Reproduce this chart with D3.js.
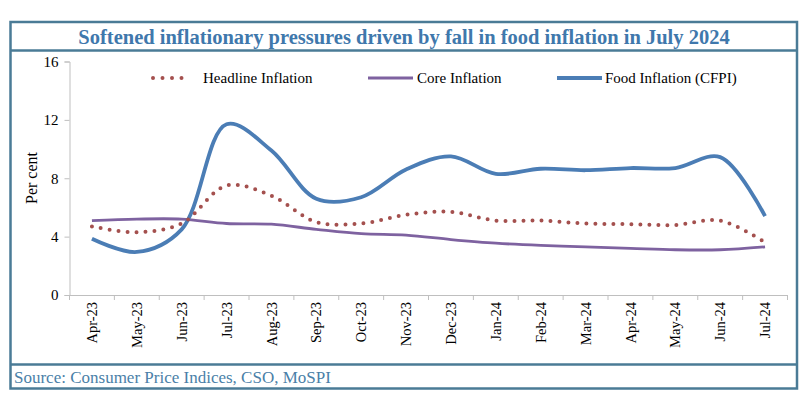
<!DOCTYPE html>
<html>
<head>
<meta charset="utf-8">
<script src="https://cdn.jsdelivr.net/npm/d3@7"></script>
<style>
  body { margin: 0; background: #fff; }
  text { font-family: "Liberation Serif", "Times New Roman", serif; }
</style>
</head>
<body>
<script>
// months on the x axis
var months = ["Apr-23", "May-23", "Jun-23", "Jul-23", "Aug-23", "Sep-23", "Oct-23", "Nov-23",
              "Dec-23", "Jan-24", "Feb-24", "Mar-24", "Apr-24", "May-24", "Jun-24", "Jul-24"];
// per cent, y-o-y
var headline = [4.7, 4.3, 4.9, 7.5, 6.8, 5.0, 4.9, 5.5, 5.7, 5.1, 5.1, 4.9, 4.85, 4.8, 5.1, 3.6];
var core     = [5.1, 5.2, 5.2, 4.9, 4.85, 4.5, 4.2, 4.1, 3.8, 3.55, 3.4, 3.3, 3.2, 3.1, 3.1, 3.3];
var food     = [3.85, 2.95, 4.5, 11.7, 9.9, 6.6, 6.7, 8.6, 9.5, 8.3, 8.65, 8.55, 8.7, 8.7, 9.45, 5.4];
var yTicks = [0, 4, 8, 12, 16];

var W = 805, H = 399;
var boxColor = "#4a7b96";

var svg = d3.select("body").append("svg").attr("width", W).attr("height", H);

// frame + title / source bands
svg.append("rect").attr("x", 10.5).attr("y", 22).attr("width", 786.5).attr("height", 366.5)
    .style("fill", "none").style("stroke", boxColor).style("stroke-width", 2.5);
svg.append("line").attr("x1", 10.5).attr("x2", 797).attr("y1", 50.5).attr("y2", 50.5)
    .style("stroke", boxColor).style("stroke-width", 2.5);
svg.append("line").attr("x1", 10.5).attr("x2", 797).attr("y1", 364.5).attr("y2", 364.5)
    .style("stroke", boxColor).style("stroke-width", 2.5);

svg.append("text").attr("x", 404).attr("y", 44).attr("text-anchor", "middle")
    .style("font-size", "20.5px").style("font-weight", "bold").style("fill", "#3f78ac")
    .text("Softened inflationary pressures driven by fall in food inflation in July 2024");

svg.append("text").attr("x", 14).attr("y", 383)
    .style("font-size", "17px").style("fill", "#4a7fa8")
    .text("Source: Consumer Price Indices, CSO, MoSPI");

// scales
var x = d3.scaleBand().domain(months).range([69.5, 787.5]).padding(0);
var y = d3.scaleLinear().domain([0, 16]).range([295, 61.5]);
var axisColor = "#bfbfbf";

var yAxis = svg.append("g").attr("transform", "translate(69.5,0)")
    .call(d3.axisLeft(y).tickValues(yTicks).tickSize(5).tickPadding(6));
var xAxis = svg.append("g").attr("transform", "translate(0,295)")
    .call(d3.axisBottom(x).tickSize(0).tickFormat(""));
[yAxis, xAxis].forEach(function (g) {
    g.select(".domain").style("stroke", axisColor);
    g.selectAll(".tick line").style("stroke", axisColor);
});
yAxis.selectAll("text").style("font-size", "15px").style("fill", "#000")
    .style("font-family", "'Liberation Serif', serif");

// category boundary ticks
var bounds = months.map(function (m) { return x(m); }).concat([x.range()[1]]);
for (var i = 0; i < bounds.length; i++) {
    svg.append("line").attr("x1", bounds[i]).attr("x2", bounds[i])
        .attr("y1", 295).attr("y2", 300).style("stroke", axisColor);
}
for (var i = 0; i < months.length; i++) {
    var cx = x(months[i]) + x.bandwidth() / 2;
    svg.append("text")
        .attr("transform", "translate(" + cx + ",302) rotate(-90)")
        .attr("text-anchor", "end").attr("dy", "0.35em")
        .style("font-size", "14.5px").text(months[i]);
}

svg.append("text").attr("transform", "translate(31,178) rotate(-90)")
    .attr("text-anchor", "middle").attr("dy", "0.35em")
    .style("font-size", "16px").text("Per cent");

// series
var line = d3.line()
    .x(function (d, i) { return x(months[i]) + x.bandwidth() / 2; })
    .y(function (d) { return y(d); })
    .curve(d3.curveCatmullRom.alpha(0.5));

svg.append("path").datum(core).attr("d", line)
    .style("fill", "none").style("stroke", "#7e62a0").style("stroke-width", 2.8);
svg.append("path").datum(food).attr("d", line)
    .style("fill", "none").style("stroke", "#4b7db5").style("stroke-width", 3.8);
svg.append("path").datum(headline).attr("d", line)
    .style("fill", "none").style("stroke", "#a4504e").style("stroke-width", 4)
    .style("stroke-dasharray", "0,9").style("stroke-linecap", "round");

// legend
var legend = [
    { name: "Headline Inflation", color: "#a4504e", x1: 153, x2: 191, tx: 203, dots: true, w: 4 },
    { name: "Core Inflation", color: "#7e62a0", x1: 368, x2: 413, tx: 417, dots: false, w: 2.8 },
    { name: "Food Inflation (CFPI)", color: "#4b7db5", x1: 557, x2: 602, tx: 605, dots: false, w: 3.8 }
];
legend.forEach(function (l) {
    var ln = svg.append("line").attr("x1", l.x1).attr("x2", l.x2).attr("y1", 78).attr("y2", 78)
        .style("stroke", l.color).style("stroke-width", l.w);
    if (l.dots) ln.style("stroke-dasharray", "0,9.5").style("stroke-linecap", "round");
    svg.append("text").attr("x", l.tx).attr("y", 78).attr("dy", "0.35em")
        .style("font-size", "15px").text(l.name);
});
</script>
</body>
</html>
